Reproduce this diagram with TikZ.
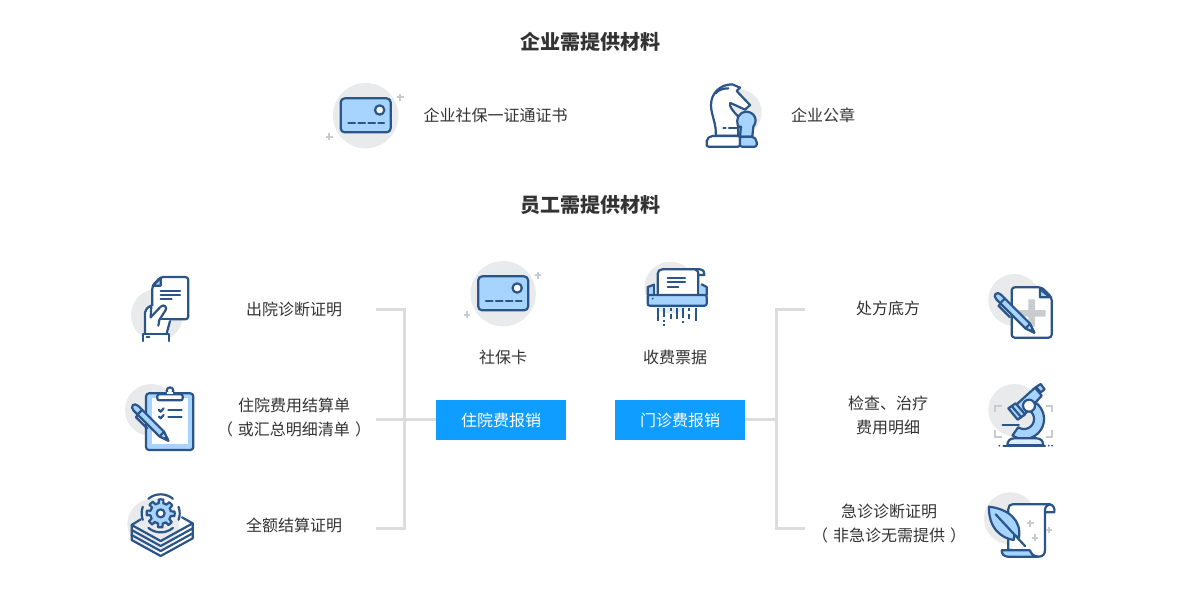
\documentclass[tikz,border=0pt]{standalone}
\usepackage{fontspec}
\setmainfont{Noto Sans CJK SC}
\definecolor{dk}{HTML}{2B5487}
\definecolor{lt}{HTML}{A6D4FF}
\definecolor{gy}{HTML}{E9EAEC}
\definecolor{btn}{HTML}{0F9DFF}
\definecolor{ln}{HTML}{DCDCDC}
\definecolor{tx}{HTML}{333333}
\definecolor{pl}{HTML}{C9CCCF}
\tikzset{
 titletext/.style={text=tx,font=\fontsize{20}{24}\selectfont\bfseries,inner sep=0pt},
 bodytext/.style={text=tx,font=\fontsize{16}{24}\selectfont,inner sep=0pt,align=center},
 btnbox/.style={fill=btn,text=white,minimum width=130pt,minimum height=40pt,inner sep=0pt,font=\fontsize{16}{24}\selectfont},
 brk/.style={draw=ln,line width=3pt},
 ic/.style={draw=dk,line width=2.2pt,line join=round,line cap=round},
 icthin/.style={draw=dk,line width=1.8pt,line join=round},
 disc/.style={fill=gy},
 plusmark/.style={draw=pl,line width=2pt},
}
\newcommand{\plusat}[3]{\draw[plusmark] (#1-#3,#2)--(#1+#3,#2) (#1,#2-#3)--(#1,#2+#3);}
\newcommand{\cardicon}[2]{%
 \begin{scope}[shift={(#1,#2)},scale=1/3]
  \fill[disc] (137,137) circle[radius=98];
  \draw[ic,fill=lt,rounded corners=4pt] (62,85) rectangle (212,187);
  \draw[ic,fill=white] (179,120) circle[radius=14];
  \draw[ic] (85,160)--(105,160) (115,160)--(135,160) (145,160)--(165,160) (175,160)--(192,160);
  \plusat{241}{82}{10}
  \plusat{28}{200}{10}
 \end{scope}}
\newcommand{\penicon}[5]{% tip x, tip y, angle, length, width
 \begin{scope}[shift={(#1,#2)},rotate=#3]
  \draw[ic,fill=lt] (0,0)--(28,#5)--(#4-14,#5) .. controls (#4+4,#5) and (#4+4,-#5) .. (#4-14,-#5)--(28,-#5)--cycle;
  \draw[ic] (28,#5)--(28,-#5) (#4-30,#5)--(#4-30,-#5);
  \draw[ic,fill=dk] (0,0)--(12,4)--(12,-4)--cycle;
  \draw[ic] (#4-32,-#5)--(#4-32,-#5-9)--(#4-80,-#5-9);
 \end{scope}}
\begin{document}
\begin{tikzpicture}[x=1pt,y=-1pt]
\useasboundingbox (0,0) rectangle (1180,590);
\fill[white] (0,0) rectangle (1180,590);

% titles
\node[titletext] (t1) at (590,42) {企业需提供材料};
\node[titletext] (t2) at (590,205) {员工需提供材料};

% texts
\node[bodytext] (a1) at (495.5,115) {企业社保一证通证书};
\node[bodytext] (a2) at (823,115) {企业公章};
\node[bodytext] (l1) at (294,309) {出院诊断证明};
\node[bodytext] (l2) at (294,417) {住院费用结算单\\（\hspace{5pt}或汇总明细清单\hspace{5pt}）};
\node[bodytext] (l3) at (294,525) {全额结算证明};
\node[bodytext] (c1) at (503,357) {社保卡};
\node[bodytext] (c2) at (675,357) {收费票据};
\node[bodytext] (r1) at (888,308) {处方底方};
\node[bodytext] (r2) at (888,415) {检查、治疗\\费用明细};
\node[bodytext] (r3) at (889,524) {急诊诊断证明\\（\hspace{5pt}非急诊无需提供\hspace{5pt}）};
\node[btnbox] (bA) at (501,420) {住院费报销};
\node[btnbox] (bB) at (680,420) {门诊费报销};

% brackets
\coordinate (lt) at (376,309.5);
\coordinate (lc) at (404,309.5);
\coordinate (lb) at (376,528);
\coordinate (ld) at (404,528);
\coordinate (lm) at (376,419);
\coordinate (rt) at (805,309.5);
\coordinate (rc) at (776,309.5);
\coordinate (rb) at (805,528);
\coordinate (rd) at (776,528);
\draw[brk] (lt)--(lc)--(ld)--(lb);
\draw[brk] (lm)--(bA.west|-lm);
\draw[brk] (rt)--(rc)--(rd)--(rb);
\draw[brk] (bB.east|-lm)--(rc|-lm);

% cards
\cardicon{320}{70}
\cardicon{457.5}{248}

% chess
\begin{scope}[shift={(695,75)},scale=1/3]
 \fill[disc] (130,112) circle[radius=70];
 \draw[ic,fill=white] (62,182) .. controls (66,150) and (48,120) .. (48,90) .. controls (48,55) and (75,28) .. (112,28)--(135,38)--(125,48)--(165,90)--(150,104) .. controls (135,97) and (125,92) .. (106,84) .. controls (100,92) and (115,110) .. (130,125)--(130,182)--cycle;
 \draw[ic] (62,55) .. controls (70,44) and (85,40) .. (100,40);
 \draw[ic] (85,160)--(92,160) (102,160)--(125,160);
 \draw[ic,fill=white,rounded corners=2pt] (35,215)--(35,193)--(47,183)--(135,183)--(135,215)--cycle;
 \draw[ic,fill=lt] (130,155) .. controls (120,130) and (135,110) .. (153,110) .. controls (178,110) and (190,135) .. (175,155)--(172,185)--(135,185)--(138,155)--cycle;
 \draw[ic,fill=lt,rounded corners=2pt] (135,215)--(135,185)--(175,185)--(185,195)--(185,215)--cycle;
\end{scope}

% hand + document
\begin{scope}[shift={(120,265)},scale=1/3]
 \fill[disc] (111,150) circle[radius=78];
 \draw[ic,fill=white,rounded corners=3pt] (97,62)--(122,36)--(205,36)--(205,163)--(97,163)--cycle;
 \draw[ic,fill=lt] (122,38)--(122,62)--(99,62)--cycle;
 \draw[ic] (122,78)--(180,78) (122,90)--(180,90) (122,103)--(155,103);
 \fill[white] (75,205)--(75,140)--(92,124)--(125,122)--(140,130)--(122,165)--(150,165)--(140,205)--cycle;
 \draw[ic] (75,205)--(75,142) .. controls (76,132) and (84,126) .. (94,122)--(92,157);
 \draw[ic] (92,157)--(122,125) .. controls (132,116) and (142,126) .. (137,135)--(118,165)--(115,182);
 \draw[ic] (140,205)--(150,168);
 \draw[ic,fill=white] (68,228)--(68,207)--(148,207)--(148,228);
 \draw[ic] (80,217)--(88,217);
\end{scope}

% clipboard
\begin{scope}[shift={(120,375)},scale=1/3]
 \fill[disc] (93,105) circle[radius=78];
 \draw[ic,fill=lt,rounded corners=3pt] (78,55) rectangle (220,225);
 \fill[white] (95,70) rectangle (205,208);
 \draw[ic,fill=white] (150,47) circle[radius=10];
 \draw[ic,fill=white,rounded corners=2pt] (112,76)--(112,58)--(188,58)--(188,76)--cycle;
 \fill[white] (140,50) rectangle (160,56.5);
 \draw[ic] (145,105)--(185,105) (145,125)--(185,125);
 \draw[ic] (117,105)--(122,110)--(131,100) (117,125)--(122,130)--(131,120);
 \penicon{145}{197}{135}{151}{10}
\end{scope}

% gear + stack
\begin{scope}[shift={(120,485)},scale=1/3]
 \fill[disc] (100,118) circle[radius=78];
 \draw[ic,fill=lt] plot[samples=97,domain=0:360] ({122+((mod(\x+11,45)<22.5)?42:31)*cos(\x)},{85+((mod(\x+11,45)<22.5)?42:31)*sin(\x)})--cycle;
 \draw[ic,fill=white] (122,85) circle[radius=12];
 \draw[ic] plot[samples=15,domain=-130:-50] ({122+57*cos(\x)},{85+57*sin(\x)});
 \draw[ic] plot[samples=15,domain=50:130] ({122+57*cos(\x)},{85+57*sin(\x)});
 \draw[ic] plot[samples=9,domain=160:200] ({122+57*cos(\x)},{85+57*sin(\x)});
 \draw[ic] plot[samples=9,domain=-20:20] ({122+57*cos(\x)},{85+57*sin(\x)});
 \draw[ic] (62,103)--(35,120)--(122,168)--(218,115)--(186,97);
 \draw[ic] (35,120)--(35,135)--(122,183)--(218,130)--(218,115);
 \draw[ic] (35,135)--(35,150)--(122,198)--(218,145)--(218,130);
 \draw[ic] (35,150)--(35,165)--(122,213)--(218,160)--(218,145);
\end{scope}

% shredder
\begin{scope}[shift={(635,255)},scale=1/3]
 \fill[disc] (106,98) circle[radius=78];
 \fill[lt] (38,96)--(60,88)--(60,122)--(38,122)--cycle (215,96)--(195,88)--(195,122)--(215,122)--cycle;
 \draw[ic] (56,120)--(56,88);
 \draw[ic,fill=white] (68,120)--(68,56) .. controls (68,48) and (74,43) .. (82,43)--(195,43) .. controls (205,44) and (210,52) .. (208,60)--(190,60)--(190,120);
 \draw[ic] (190,60) .. controls (190,50) and (188,45) .. (180,43);
 \draw[ic] (98,70)--(150,70) (98,82)--(150,82) (98,95)--(130,95);
 \draw[ic,fill=lt,rounded corners=2pt] (38,120)--(38,152)--(215,152)--(215,120)--cycle;
 \draw[ic] (38,120)--(38,96)--(55,90) (215,120)--(215,96)--(200,88);
 \fill[dk] (53,131) circle[radius=3];
 \draw[icthin] (70,160)--(70,197) (88,160)--(88,186) (88,195)--(88,201) (88,206)--(88,212) (107,160)--(107,167) (107,176)--(107,192) (125,160)--(125,192) (145,160)--(145,190) (145,199)--(145,205) (163,160)--(163,167) (163,176)--(163,192) (182,160)--(182,198);
\end{scope}

% prescription
\begin{scope}[shift={(980,265)},scale=1/3]
 \fill[disc] (103,105) circle[radius=78];
 \draw[ic,fill=white,rounded corners=3pt] (95,67)--(185,67)--(215,97)--(215,218)--(95,218)--cycle;
 \draw[ic,fill=lt] (180,72)--(180,97)--(210,97)--cycle;
 \fill[pl] (145,103) rectangle (165,185) (115,135) rectangle (197,155);
 \penicon{163}{203}{135}{165}{10}
\end{scope}

% microscope
\begin{scope}[shift={(980,375)},scale=1/3]
 \fill[disc] (103,105) circle[radius=78];
 \draw[draw=pl,line width=2pt] (45,110)--(45,92)--(65,92) (197,92)--(217,92)--(217,110) (45,165)--(45,185)--(65,185) (197,185)--(217,185)--(217,165);
 \draw[ic,fill=lt] plot[samples=25,domain=-55:125] ({132+60*cos(\x)},{132+60*sin(\x)}) -- plot[samples=25,domain=125:-55] ({132+30*cos(\x)},{132+30*sin(\x)})--cycle;
 \draw[ic,fill=lt] (110,88)--(165,38)--(185,62)--(130,122)--cycle;
 \draw[ic,fill=lt] (168,36)--(182,27)--(194,43)--(182,52)--cycle;
 \draw[ic,fill=lt] (85,100)--(107,85)--(135,118)--(113,134)--cycle;
 \draw[ic] (95,93)--(124,127);
 \draw[ic,fill=white] (147,92) circle[radius=18];
 \draw[ic,line width=2.6pt] (68,150)--(116,150);
 \draw[ic,fill=lt!40!white] (82,211) .. controls (82,198) and (90,190) .. (102,190)--(170,190) .. controls (182,190) and (190,198) .. (190,211)--cycle;
 \draw[ic] (70,212)--(195,212);
 \fill[dk] (58,212) circle[radius=3] (206,212) circle[radius=3] (216,212) circle[radius=3];
\end{scope}

% scroll + quill
\begin{scope}[shift={(975,485)},scale=1/3]
 \fill[disc] (105,100) circle[radius=78];
 \draw[ic,fill=white] (100,195)--(100,72) .. controls (100,63) and (105,58) .. (112,58)--(225,58) .. controls (235,60) and (240,70) .. (238,82)--(210,82)--(210,195) .. controls (210,208) and (203,215) .. (190,215)--(110,215)--(110,195)--cycle;
 \draw[ic] (210,82) .. controls (210,70) and (210,62) .. (225,58);
 \draw[ic,fill=lt] (80,196)--(165,196) .. controls (167,205) and (175,214) .. (190,215)--(98,215) .. controls (86,214) and (80,207) .. cycle;
 \plusat{166}{115}{10}
 \plusat{180}{158}{10}
 \plusat{222}{135}{10}
 \draw[ic,fill=lt] (42,65) .. controls (100,72) and (140,105) .. (132,158)--(118,150)--(116,165) .. controls (80,160) and (40,130) .. (42,65)--cycle;
 \draw[ic] (62,88)--(150,183);
\end{scope}
\end{tikzpicture}
\end{document}
